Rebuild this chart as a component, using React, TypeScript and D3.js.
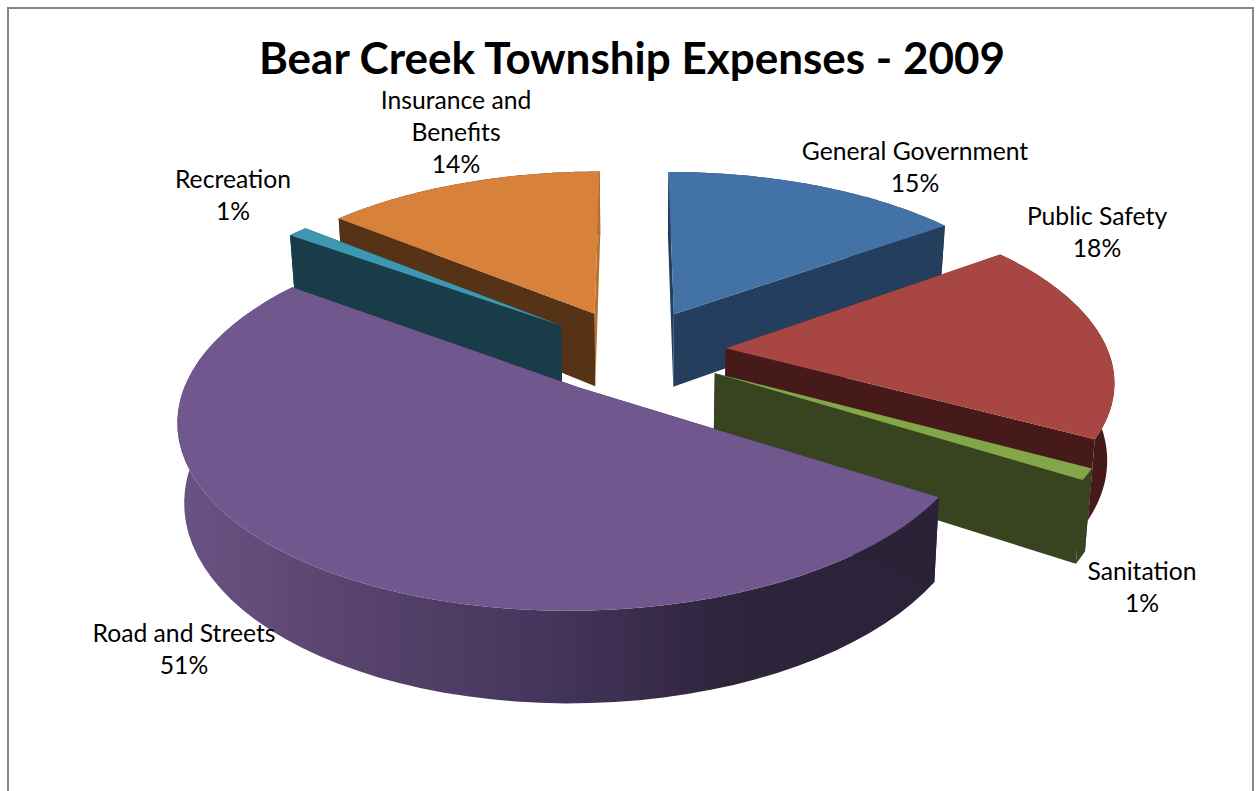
import React from "react";
import * as d3 from "d3";

const categories = ["General Government", "Public Safety", "Sanitation", "Road and Streets", "Recreation", "Insurance and Benefits"];
const percents = [15, 18, 1, 51, 1, 14];
const chartTitle = "Bear Creek Township Expenses - 2009";

const topColors = ["#4372A7", "#A84644", "#84A548", "#70578E", "#3D97B0", "#D8813B"];
const wallColors = ["#243F5E", "#451A18", "#38431F", "url(#roadWall)", "#1A3B48", "#563316"];
const endWallColors = ["#243F5E", "#451A18", "#38431F", "#2B2238", "#1A3B48", "#B8702F"];
const drawOrder = [0, 5, 4, 1, 2, 3];
const labelLines = [
  ["General Government", "15%"],
  ["Public Safety", "18%"],
  ["Sanitation", "1%"],
  ["Road and Streets", "51%"],
  ["Recreation", "1%"],
  ["Insurance and", "Benefits", "14%"],
];
const labelAnchors: [number, number][] = [
  [915, 160], [1097, 225], [1142, 580], [184, 642], [233, 188], [456, 109],
];

const W = 1257, H = 791;
const CX = 633, CY = 351;
const radius = 0.985, explode = 0.24, perspective = 0.16, depth = 75, shrink = 0.985;
const sx = d3.scaleLinear().domain([-1, 1]).range([CX - 388, CX + 388]);
const sy = d3.scaleLinear().domain([-1, 1]).range([CY + 178, CY - 178]);

type Pt = [number, number];
const project = (x: number, y: number, low: boolean): Pt => {
  const w = 1 + perspective * y;
  const px = sx(x / w);
  const py = sy(y / w);
  return low ? [CX + (px - CX) * shrink, py + depth / w] : [px, py];
};
const line = d3.line<Pt>();

export default function App() {
  const arcs = d3.pie<number>().sort(null).startAngle(0).endAngle(2 * Math.PI)(percents);
  const faces = arcs.map((a) => {
    const mid = (a.startAngle + a.endAngle) / 2;
    const ox = explode * Math.sin(mid), oy = explode * Math.cos(mid);
    const steps = d3.range(0, 61).map((i) => a.startAngle + ((a.endAngle - a.startAngle) * i) / 60);
    const rim = (low: boolean) => steps.map((t) => project(ox + radius * Math.sin(t), oy + radius * Math.cos(t), low));
    const apexT = project(ox, oy, false), apexB = project(ox, oy, true);
    const rimT = rim(false), rimB = rim(true);
    return {
      top: line([apexT, ...rimT])! + "Z",
      startWall: line([apexT, rimT[0], rimB[0], apexB])! + "Z",
      endWall: line([apexT, rimT[60], rimB[60], apexB])! + "Z",
      outer: line([...rimT, ...[...rimB].reverse()])! + "Z",
    };
  });
  return (
    <svg width={W} height={H} viewBox={`0 0 ${W} ${H}`} style={{ position: "absolute", left: 0, top: 0, background: "#fff" }}>
      <defs>
        <linearGradient id="roadWall" gradientUnits="userSpaceOnUse" x1={180} x2={945} y1={0} y2={0}>
          <stop offset="0" stopColor="#6A5383" />
          <stop offset="0.2" stopColor="#5A4570" />
          <stop offset="0.5" stopColor="#43345A" />
          <stop offset="0.72" stopColor="#2E243C" />
          <stop offset="1" stopColor="#2B2238" />
        </linearGradient>
      </defs>
      <path d={`M8 ${H}V8H1253V${H}`} fill="none" stroke="#868686" strokeWidth={2} />
      <text x={632} y={74} textAnchor="middle" fontFamily="Lato" fontWeight={700} fontSize={44} fill="#000">{chartTitle}</text>
      {drawOrder.map((i) => (
        <g key={categories[i]}>
          <path d={faces[i].outer} fill={wallColors[i]} />
          <path d={faces[i].startWall} fill={wallColors[i].startsWith("url") ? endWallColors[i] : wallColors[i]} />
          <path d={faces[i].endWall} fill={endWallColors[i]} />
          <path d={faces[i].top} fill={topColors[i]} />
        </g>
      ))}
      {labelLines.map((lines, i) => (
        <text key={categories[i]} textAnchor="middle" fontFamily="Lato" fontSize={24.7} fill="#000">
          {lines.map((s, j) => (
            <tspan key={j} x={labelAnchors[i][0]} y={labelAnchors[i][1] + j * 32}>{s}</tspan>
          ))}
        </text>
      ))}
    </svg>
  );
}
